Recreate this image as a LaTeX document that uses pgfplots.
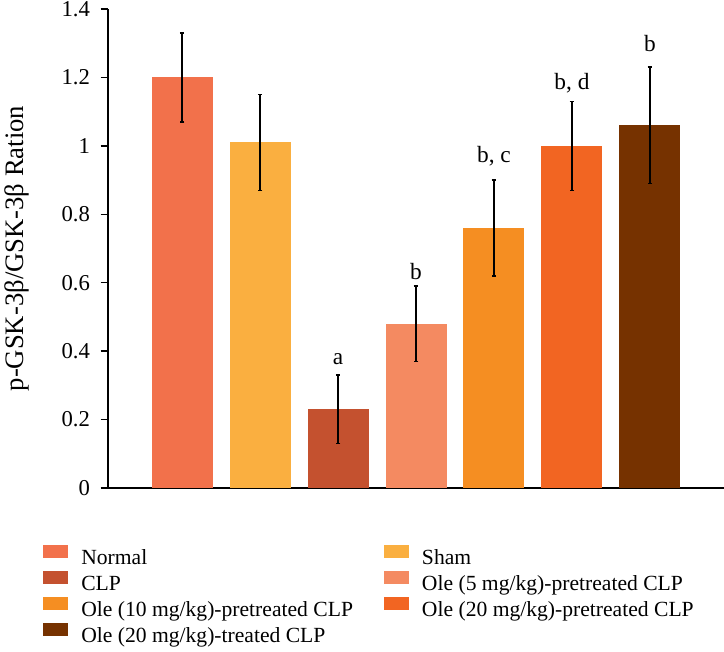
\documentclass[border=0pt]{standalone}
\usepackage{fontspec}
\setmainfont{Liberation Serif}
\usepackage{pgfplots}
\pgfplotsset{compat=1.18}
\definecolor{cNormal}{HTML}{F2714B}
\definecolor{cSham}{HTML}{FAAF40}
\definecolor{cCLP}{HTML}{C4512F}
\definecolor{cOleV}{HTML}{F48A61}
\definecolor{cOleX}{HTML}{F58E22}
\definecolor{cOleXXp}{HTML}{F26522}
\definecolor{cOleXXt}{HTML}{763200}
\begin{document}
\begin{tikzpicture}
\begin{axis}[
  scale only axis,
  width=462pt, height=359.25pt,
  xmin=-0.95, xmax=6.95,
  ymin=0, ymax=1.4,
  ytick={0,0.2,...,1.4},
  yticklabels={0,0.2,0.4,0.6,0.8,1,1.2,1.4},
  xtick=\empty,
  axis x line*=bottom, axis y line*=left,
  axis line style={line width=1.1pt, -},
  tick align=outside,
  major tick length=5.5pt,
  tick style={line width=1pt, black},
  /pgf/number format/assume math mode=true,
  ticklabel style={font=\fontsize{17}{20}\selectfont},
  yticklabel style={xshift=-4.5pt},
  ylabel={p-GSK-3β/GSK-3β Ration},
  every axis y label/.style={at={(axis description cs:-0.1364,0.5)}, rotate=90, anchor=base, font=\fontsize{20}{23}\selectfont},
  ybar, bar width=45.75pt, bar shift=0pt,
  clip=false,
  legend columns=2,
  legend cell align=left,
  legend style={draw=none, fill=none, inner sep=0pt,
    at={(axis description cs:-0.1055,-0.1190)}, anchor=north west,
    font=\fontsize{16.2}{19}\selectfont,
    nodes={inner sep=0pt, text height=0.75em, text depth=0.25em},
    row sep=2.4pt, column sep=9.75pt,
    /tikz/every even column/.append style={column sep=23.25pt}},
  legend image code/.code={\fill[#1] (0pt,2.25pt) rectangle (18.75pt,12pt);},
  error bars/y dir=both, error bars/y explicit,
  error bars/error bar style={line width=1pt, black},
  error bars/error mark options={rotate=90, mark size=1.7pt, line width=1pt, black},
]
\addplot[fill=cNormal, draw=none] coordinates {(0,1.20) +- (0,0.13)};
\addlegendentry{Normal}
\addplot[fill=cSham, draw=none] coordinates {(1,1.01) +- (0,0.14)};
\addlegendentry{Sham}
\addplot[fill=cCLP, draw=none] coordinates {(2,0.23) +- (0,0.10)};
\addlegendentry{CLP}
\addplot[fill=cOleV, draw=none] coordinates {(3,0.48) +- (0,0.11)};
\addlegendentry{Ole (5 mg/kg)-pretreated CLP}
\addplot[fill=cOleX, draw=none] coordinates {(4,0.76) +- (0,0.14)};
\addlegendentry{Ole (10 mg/kg)-pretreated CLP}
\addplot[fill=cOleXXp, draw=none] coordinates {(5,1.00) +- (0,0.13)};
\addlegendentry{Ole (20 mg/kg)-pretreated CLP}
\addplot[fill=cOleXXt, draw=none] coordinates {(6,1.06) +- (0,0.17)};
\addlegendentry{Ole (20 mg/kg)-treated CLP}
\node[anchor=base, font=\fontsize{17.5}{20}\selectfont] at (axis cs:2,0.36) {a};
\node[anchor=base, font=\fontsize{17.5}{20}\selectfont] at (axis cs:3,0.608) {b};
\node[anchor=base, font=\fontsize{17.5}{20}\selectfont] at (axis cs:4,0.95) {b, c};
\node[anchor=base, font=\fontsize{17.5}{20}\selectfont] at (axis cs:5,1.165) {b, d};
\node[anchor=base, font=\fontsize{17.5}{20}\selectfont] at (axis cs:6,1.275) {b};
\end{axis}
\pgfresetboundingbox
\path[use as bounding box] (-81pt,-123pt) rectangle (462pt,366pt);
\end{tikzpicture}
\end{document}
